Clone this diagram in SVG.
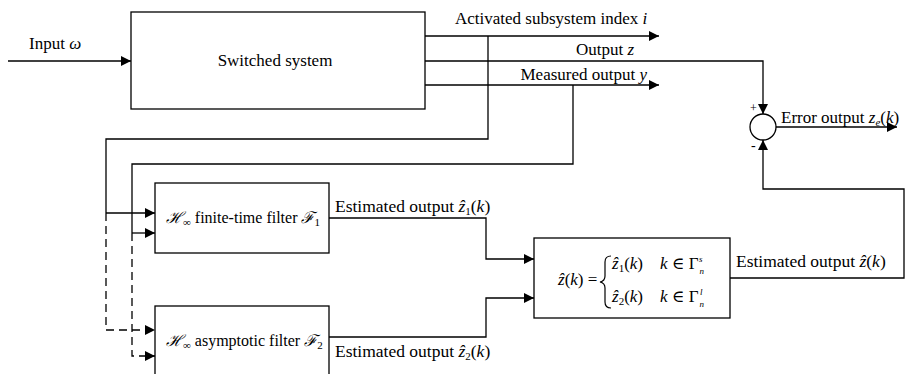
<svg xmlns="http://www.w3.org/2000/svg" width="906" height="374" viewBox="0 0 906 374">
<defs>
<marker id="ah" viewBox="0 0 10 10" refX="10" refY="5" markerWidth="10" markerHeight="10" markerUnits="userSpaceOnUse" orient="auto">
<path d="M0,0 L10,5 L0,10 Z" fill="#000"/>
</marker>
<style>
text{font-family:'Liberation Serif','Times New Roman','DejaVu Serif',serif;font-size:17px;fill:#000}
.it{font-style:italic}
.est{font-size:17.5px}
.flt{font-size:16px}
.sub{font-size:11px}
.sm{font-size:9px}
.box{fill:#fff;stroke:#000;stroke-width:1.3}
.ln{fill:none;stroke:#000;stroke-width:1.3}
.ar{fill:none;stroke:#000;stroke-width:1.3;marker-end:url(#ah)}
.da{fill:none;stroke:#000;stroke-width:1.3;stroke-dasharray:8,5;marker-end:url(#ah)}
</style>
</defs>
<rect width="906" height="374" fill="#fff"/>
<g id="connectors">
<path class="ar" d="M8,61 H131"/>
<path class="ar" d="M425,36 H659"/>
<path class="ar" d="M425,61 H763 V114"/>
<path class="ar" d="M425,85 H659"/>
<path class="ln" d="M488,36 V139 H106 V213"/>
<path class="ar" d="M106,213 H155"/>
<path class="ln" d="M573,85 V164 H132 V233"/>
<path class="ar" d="M132,233 H155"/>
<path class="da" d="M106,213 V330 H155"/>
<path class="da" d="M132,233 V356 H155"/>
<path class="ar" d="M329,218 H486 V259 H534"/>
<path class="ar" d="M329,337 H486 V298 H534"/>
<path class="ar" d="M730,278 H904 V189 H763 V140"/>
<path class="ar" d="M776,127 H897"/>
</g>
<g id="input-label"><text x="29" y="49">Input <tspan class="it">ω</tspan></text></g>
<g id="switched-system">
<rect class="box" x="131" y="12" width="294" height="97"/>
<text x="275" y="66" text-anchor="middle">Switched system</text>
</g>
<g id="output-labels">
<text x="455" y="24">Activated subsystem index <tspan class="it">i</tspan></text>
<text x="634" y="55" text-anchor="end">Output <tspan class="it">z</tspan></text>
<text x="647" y="80" text-anchor="end">Measured output <tspan class="it">y</tspan></text>
</g>
<g id="filter1">
<rect class="box" x="155" y="183" width="174" height="70"/>
<text class="flt" x="166" y="223"><tspan class="it">ℋ</tspan><tspan class="sub" dy="3">∞</tspan><tspan dy="-3"> finite-time filter </tspan><tspan class="it">ℱ</tspan><tspan class="sub" dy="3">1</tspan></text>
<text class="est" x="335" y="212">Estimated output <tspan class="it">ẑ</tspan><tspan class="sub" dy="3">1</tspan><tspan dy="-3">(</tspan><tspan class="it">k</tspan>)</text>
</g>
<g id="filter2">
<rect class="box" x="155" y="306" width="174" height="72"/>
<text class="flt" x="166" y="346"><tspan class="it">ℋ</tspan><tspan class="sub" dy="3">∞</tspan><tspan dy="-3"> asymptotic filter </tspan><tspan class="it">ℱ</tspan><tspan class="sub" dy="3">2</tspan></text>
<text class="est" x="335" y="357">Estimated output  <tspan class="it">ẑ</tspan><tspan class="sub" dy="3">2</tspan><tspan dy="-3">(</tspan><tspan class="it">k</tspan>)</text>
</g>
<g id="selector">
<rect class="box" x="534" y="238" width="196" height="80"/>
<text x="558" y="285"><tspan class="it">ẑ</tspan>(<tspan class="it">k</tspan>) =</text>
<path d="M611,256 Q605,256 605,262 V276 Q605,281 600,282 Q605,283 605,288 V302 Q605,308 611,308" fill="none" stroke="#000" stroke-width="1.2"/>
<text x="612" y="269"><tspan class="it">ẑ</tspan><tspan class="sub" dy="3">1</tspan><tspan dy="-3">(</tspan><tspan class="it">k</tspan>)</text>
<text x="660" y="269"><tspan class="it">k</tspan> ∈ Γ<tspan class="sm it" dx="1" dy="5">n</tspan><tspan class="sm it" dx="-5" dy="-12">s</tspan></text>
<text x="612" y="302"><tspan class="it">ẑ</tspan><tspan class="sub" dy="3">2</tspan><tspan dy="-3">(</tspan><tspan class="it">k</tspan>)</text>
<text x="660" y="302"><tspan class="it">k</tspan> ∈ Γ<tspan class="sm it" dx="1" dy="5">n</tspan><tspan class="sm it" dx="-4" dy="-12">l</tspan></text>
<text class="est" x="736" y="267">Estimated output <tspan class="it">ẑ</tspan>(<tspan class="it">k</tspan>)</text>
</g>
<g id="sum">
<circle cx="763" cy="127" r="13" fill="#fff" stroke="#000" stroke-width="1.3"/>
<text x="750" y="112" style="font-size:12px">+</text>
<text x="751" y="150" style="font-size:14px">-</text>
<text x="781" y="123">Error output <tspan class="it">z</tspan><tspan class="sub it" dy="3">e</tspan><tspan dy="-3">(</tspan><tspan class="it">k</tspan>)</text>
</g>
</svg>
